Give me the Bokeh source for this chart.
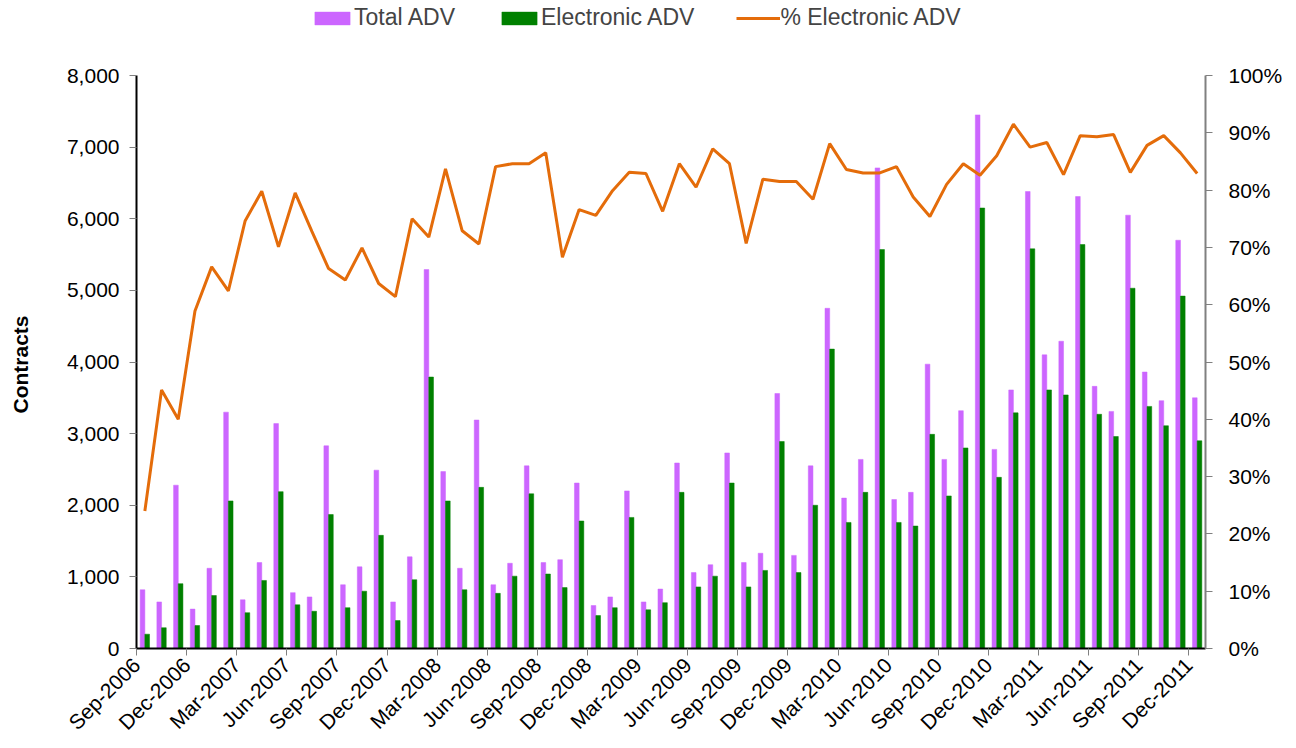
import numpy as np
import pandas as pd
from bokeh.plotting import figure
from bokeh.models import (Range1d, LinearAxis, FixedTicker, NumeralTickFormatter,
                          PrintfTickFormatter, Legend, LegendItem, ColumnDataSource, Title)
from bokeh.transform import dodge
from bokeh.embed import file_html
from bokeh.resources import INLINE

# ---------------- data ----------------
months = [d.strftime("%b-%Y") for d in pd.date_range("2006-09-01", "2011-12-01", freq="MS")]

total_adv = [820, 650, 2280, 550, 1120, 3300, 680, 1200, 3140, 780,
             720, 2830, 890, 1140, 2490, 650, 1280, 5290, 2470, 1120,
             3190, 890, 1190, 2550, 1200, 1240, 2310, 600, 720, 2200,
             650, 830, 2590, 1060, 1170, 2730, 1200, 1330, 3560, 1300,
             2550, 4750, 2100, 2640, 6710, 2080, 2180, 3970, 2640, 3320,
             7450, 2780, 3610, 6380, 4100, 4290, 6310, 3660, 3310, 6050,
             3860, 3460, 5700, 3500]

electronic_adv = [200, 290, 905, 321, 740, 2060, 500, 950, 2190, 610,
                  520, 1870, 570, 800, 1580, 390, 960, 3790, 2060, 820,
                  2250, 770, 1010, 2160, 1040, 850, 1780, 460, 570, 1830,
                  540, 640, 2180, 860, 1010, 2310, 860, 1090, 2890, 1060,
                  2000, 4180, 1760, 2180, 5570, 1760, 1710, 2990, 2130, 2800,
                  6150, 2390, 3290, 5580, 3610, 3540, 5640, 3270, 2960, 5030,
                  3380, 3110, 4920, 2900]

pct_electronic = [24.0, 45.1, 40.0, 58.9, 66.6, 62.4, 74.6, 79.8, 70.1, 79.5,
                  72.8, 66.3, 64.3, 69.9, 63.7, 61.4, 75.0, 71.8, 83.7, 72.9,
                  70.6, 84.1, 84.6, 84.6, 86.5, 68.3, 76.6, 75.6, 79.9, 83.1,
                  82.9, 76.3, 84.6, 80.5, 87.2, 84.6, 70.7, 81.9, 81.5, 81.5,
                  78.4, 88.1, 83.6, 83.0, 83.0, 84.1, 78.8, 75.4, 81.0, 84.6,
                  82.6, 86.0, 91.5, 87.5, 88.3, 82.7, 89.5, 89.3, 89.7, 83.1,
                  87.8, 89.5, 86.5, 82.9]

tick_labels = ["Sep-2006", "Dec-2006", "Mar-2007", "Jun-2007", "Sep-2007", "Dec-2007",
               "Mar-2008", "Jun-2008", "Sep-2008", "Dec-2008", "Mar-2009", "Jun-2009",
               "Sep-2009", "Dec-2009", "Mar-2010", "Jun-2010", "Sep-2010", "Dec-2010",
               "Mar-2011", "Jun-2011", "Sep-2011", "Dec-2011"]

left_ticks = [0, 1000, 2000, 3000, 4000, 5000, 6000, 7000, 8000]
right_ticks = [0, 10, 20, 30, 40, 50, 60, 70, 80, 90, 100]

# ---------------- styles ----------------
FONT = "Liberation Sans"
PURPLE = "#CC66FF"
GREEN = "#008000"
ORANGE = "#E46C0A"
FS = "21px"

W, H = 1290, 746
BORDER_L, BORDER_R, BORDER_B = 136, 85, 98
AXIS_TOP_PX = 75                      # where the 8,000 / 100% end of the axes sits
frame_h = H - BORDER_B                # frame reaches the top so the legend is not clipped
span_px = frame_h - AXIS_TOP_PX
left_max, right_max = left_ticks[-1], right_ticks[-1]

n = len(months)
src = ColumnDataSource(dict(x=np.arange(n) + 0.5, month=months, total=total_adv,
                            elec=electronic_adv, pct=pct_electronic))

p = figure(width=W, height=H, output_backend="svg", toolbar_location=None,
           x_range=Range1d(0, n), y_range=Range1d(0, left_max * frame_h / span_px),
           min_border_left=BORDER_L, min_border_right=BORDER_R, min_border_top=0,
           min_border_bottom=BORDER_B)
p.outline_line_color = None
p.xgrid.visible = False
p.ygrid.visible = False
p.background_fill_color = "white"
p.border_fill_color = "white"

p.extra_y_ranges = {"pct": Range1d(0, right_max * frame_h / span_px)}

r_total = p.vbar(x=dodge("x", -0.14), width=0.28, top="total", source=src,
                 fill_color=PURPLE, line_color=PURPLE, line_width=0.5)
r_elec = p.vbar(x=dodge("x", 0.14), width=0.28, top="elec", source=src,
                fill_color=GREEN, line_color=GREEN, line_width=0.5)
r_pct = p.line(x="x", y="pct", source=src, y_range_name="pct",
               line_color=ORANGE, line_width=3)

# x axis
tick_pos = [months.index(t) for t in tick_labels]
xa = p.xaxis[0]
xa.ticker = FixedTicker(ticks=tick_pos)
xa.major_label_overrides = {pos: lab for pos, lab in zip(tick_pos, tick_labels)}
xa.major_label_orientation = np.pi / 4
xa.minor_tick_line_color = None
xa.major_tick_in = 0
xa.major_tick_out = 7
xa.major_tick_line_color = "#808080"
xa.axis_line_color = "black"
xa.axis_line_width = 2
xa.major_label_text_font = FONT
xa.major_label_text_font_size = FS
xa.major_label_text_color = "black"
xa.major_label_standoff = 6

# left axis
ya = p.yaxis[0]
ya.bounds = (0, left_max)
ya.ticker = FixedTicker(ticks=left_ticks)
ya.formatter = NumeralTickFormatter(format="0,0")
ya.minor_tick_line_color = None
ya.major_tick_in = 0
ya.major_tick_out = 7
ya.major_tick_line_color = "#808080"
ya.axis_line_color = "black"
ya.axis_line_width = 2
ya.major_label_text_font = FONT
ya.major_label_text_font_size = FS
ya.major_label_text_color = "black"
ya.major_label_standoff = 10

# spacer between the tick labels and the y-axis title
spacer = Title(text=" ", text_font=FONT, text_font_size=FS, standoff=6)
p.add_layout(spacer, "left")

# y-axis title, anchored at its start so it sits centred on the 0..8,000 span
ytitle = Title(text="Contracts", align="left", offset=235, vertical_align="middle",
               text_font=FONT, text_font_size=FS, text_font_style="bold",
               text_color="black", standoff=0)
p.add_layout(ytitle, "left")

# right axis
ra = LinearAxis(y_range_name="pct", ticker=FixedTicker(ticks=right_ticks),
                formatter=PrintfTickFormatter(format="%d%%"), bounds=(0, right_max))
ra.minor_tick_line_color = None
ra.major_tick_in = 0
ra.major_tick_out = 7
ra.major_tick_line_color = "#808080"
ra.axis_line_color = "#808080"
ra.axis_line_width = 2
ra.major_label_text_font = FONT
ra.major_label_text_font_size = FS
ra.major_label_text_color = "black"
ra.major_label_standoff = 16
p.add_layout(ra, "right")

legend = Legend(items=[LegendItem(label="Total ADV", renderers=[r_total]),
                       LegendItem(label="Electronic ADV", renderers=[r_elec]),
                       LegendItem(label="% Electronic ADV", renderers=[r_pct])],
                orientation="horizontal", location=(174, 617),
                glyph_width=44, glyph_height=16, label_standoff=0, spacing=42,
                padding=0, margin=0, border_line_color=None, background_fill_alpha=0,
                label_text_font=FONT, label_text_font_size="23px", label_height=20)
p.add_layout(legend)

open("out.html", "w").write(file_html(p, INLINE))
